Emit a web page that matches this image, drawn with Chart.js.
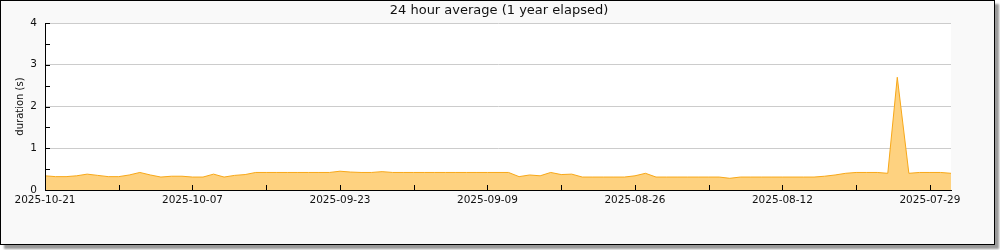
<!DOCTYPE html>
<html>
<head>
<meta charset="utf-8">
<title>24 hour average</title>
<script src="https://cdn.jsdelivr.net/npm/chart.js@4.4.1/dist/chart.umd.min.js"></script>
<style>
  html, body { margin: 0; padding: 0; background: #fff; }
  #frame {
    position: absolute; left: 0; top: 0;
    width: 993px; height: 243px;
    border: 1px solid #000;
    background: #f9f9f9;
    box-shadow: 4px 4px 2px #999;
  }
  #chart { position: absolute; left: 0; top: 0; }
</style>
</head>
<body>
<div id="frame"></div>
<canvas id="chart" width="1000" height="250"></canvas>
<script>
// days back from 2025-10-21 (left edge) toward 2025-07-27 (right edge)
var daysAgo = [
    0, 1, 2, 3, 4, 5, 6, 7, 8, 9,
    10, 11, 12, 13, 14, 15, 16, 17, 18, 19,
    20, 21, 22, 23, 24, 25, 26, 27, 28, 29,
    30, 31, 32, 33, 34, 35, 36, 37, 38, 39,
    40, 41, 42, 43, 44, 45, 46, 47, 48, 49,
    50, 51, 52, 53, 54, 55, 56, 57, 58, 59,
    60, 61, 62, 63, 64, 65, 66, 67, 68, 69,
    70, 71, 72, 73, 74, 75, 76, 77, 78, 79,
    80, 80.9, 82, 83, 84, 85, 86
];

// average duration in seconds
var duration = [
    0.34, 0.32, 0.32, 0.34, 0.38, 0.35, 0.32, 0.32, 0.36, 0.42,
    0.36, 0.31, 0.33, 0.33, 0.31, 0.31, 0.38, 0.31, 0.35, 0.37,
    0.42, 0.42, 0.42, 0.42, 0.42, 0.42, 0.42, 0.42, 0.45, 0.43,
    0.42, 0.42, 0.44, 0.42, 0.42, 0.42, 0.42, 0.42, 0.42, 0.42,
    0.42, 0.42, 0.42, 0.42, 0.42, 0.32, 0.36, 0.34, 0.42, 0.37,
    0.38, 0.31, 0.31, 0.31, 0.31, 0.31, 0.34, 0.40, 0.31, 0.31,
    0.31, 0.31, 0.31, 0.31, 0.31, 0.28, 0.31, 0.31, 0.31, 0.31,
    0.31, 0.31, 0.31, 0.31, 0.33, 0.36, 0.40, 0.42, 0.42, 0.42,
    0.40, 2.70, 0.40, 0.42, 0.42, 0.42, 0.40
];

// labels for every second x tick (every 14 days)
var xTickLabels = ['2025-10-21', '2025-10-07', '2025-09-23', '2025-09-09',
                   '2025-08-26', '2025-08-12', '2025-07-29'];

var chartTitle = '24 hour average (1 year elapsed)';
var yTitle = 'duration (s)';

var FONT = 'DejaVu Sans';

// white plot background
var plotBackground = {
    id: 'plotBackground',
    beforeDraw: function (chart) {
        var a = chart.chartArea, ctx = chart.ctx;
        ctx.save();
        ctx.fillStyle = '#fff';
        ctx.fillRect(a.left, a.top, a.right - a.left, a.bottom - a.top);
        ctx.restore();
    }
};

// axis lines and small ticks pointing into the plot
var inwardTicks = {
    id: 'inwardTicks',
    afterDatasetsDraw: function (chart) {
        var ctx = chart.ctx, a = chart.chartArea;
        var x = chart.scales.x, y = chart.scales.y;
        ctx.save();
        ctx.strokeStyle = '#000';
        ctx.lineWidth = 1;
        ctx.beginPath();
        y.ticks.forEach(function (t) {
            var py = Math.round(y.getPixelForValue(t.value)) + 0.5;
            ctx.moveTo(a.left, py);
            ctx.lineTo(a.left + 5, py);
        });
        x.ticks.forEach(function (t) {
            var px = Math.round(x.getPixelForValue(t.value)) + 0.5;
            ctx.moveTo(px, a.bottom);
            ctx.lineTo(px, a.bottom - 5);
        });
        ctx.moveTo(Math.round(a.left) + 0.5, a.top);
        ctx.lineTo(Math.round(a.left) + 0.5, a.bottom);
        ctx.moveTo(a.left, Math.round(a.bottom) + 0.5);
        ctx.lineTo(a.right, Math.round(a.bottom) + 0.5);
        ctx.stroke();
        ctx.restore();
    }
};

// title centred on the whole picture
var centredTitle = {
    id: 'centredTitle',
    afterDraw: function (chart) {
        var ctx = chart.ctx;
        ctx.save();
        ctx.font = '13px "' + FONT + '"';
        ctx.fillStyle = '#111';
        ctx.textAlign = 'center';
        ctx.textBaseline = 'middle';
        ctx.fillText(chartTitle, 499, 11);
        ctx.restore();
    }
};

var points = daysAgo.map(function (d, i) {
    return {x: d, y: duration[i]};
});

new Chart(document.getElementById('chart').getContext('2d'), {
    type: 'line',
    data: {
        datasets: [{
            data: points,
            fill: 'origin',
            backgroundColor: '#fed280',
            borderColor: '#f8a818',
            borderWidth: 1,
            pointRadius: 0,
            tension: 0
        }]
    },
    options: {
        responsive: false,
        animation: false,
        layout: {padding: {top: 23, right: 49, bottom: 0, left: 0}},
        plugins: {legend: {display: false}, tooltip: {enabled: false}},
        scales: {
            x: {
                type: 'linear',
                min: 0,
                max: 86,
                afterFit: function (s) { s.height = 60; },
                grid: {display: false, drawTicks: false},
                border: {color: '#000'},
                ticks: {
                    stepSize: 7,
                    includeBounds: false,
                    autoSkip: false,
                    maxRotation: 0,
                    padding: 4,
                    color: '#111',
                    font: {family: FONT, size: 10.5},
                    callback: function (v) {
                        return v % 14 === 0 ? xTickLabels[v / 14] : '';
                    }
                }
            },
            y: {
                min: 0,
                max: 4,
                afterFit: function (s) { s.width = 45; },
                grid: {
                    drawTicks: false,
                    color: function (c) {
                        return Number.isInteger(c.tick.value) ? '#cccccc' : 'rgba(0,0,0,0)';
                    }
                },
                border: {color: '#000'},
                title: {
                    display: true,
                    text: yTitle,
                    color: '#111',
                    font: {family: FONT, size: 10},
                    padding: {top: 14, bottom: 0}
                },
                ticks: {
                    stepSize: 0.5,
                    autoSkip: false,
                    padding: 8,
                    color: '#111',
                    font: {family: FONT, size: 10.5},
                    callback: function (v) {
                        return Number.isInteger(v) ? v : '';
                    }
                }
            }
        }
    },
    plugins: [plotBackground, inwardTicks, centredTitle]
});
</script>
</body>
</html>
